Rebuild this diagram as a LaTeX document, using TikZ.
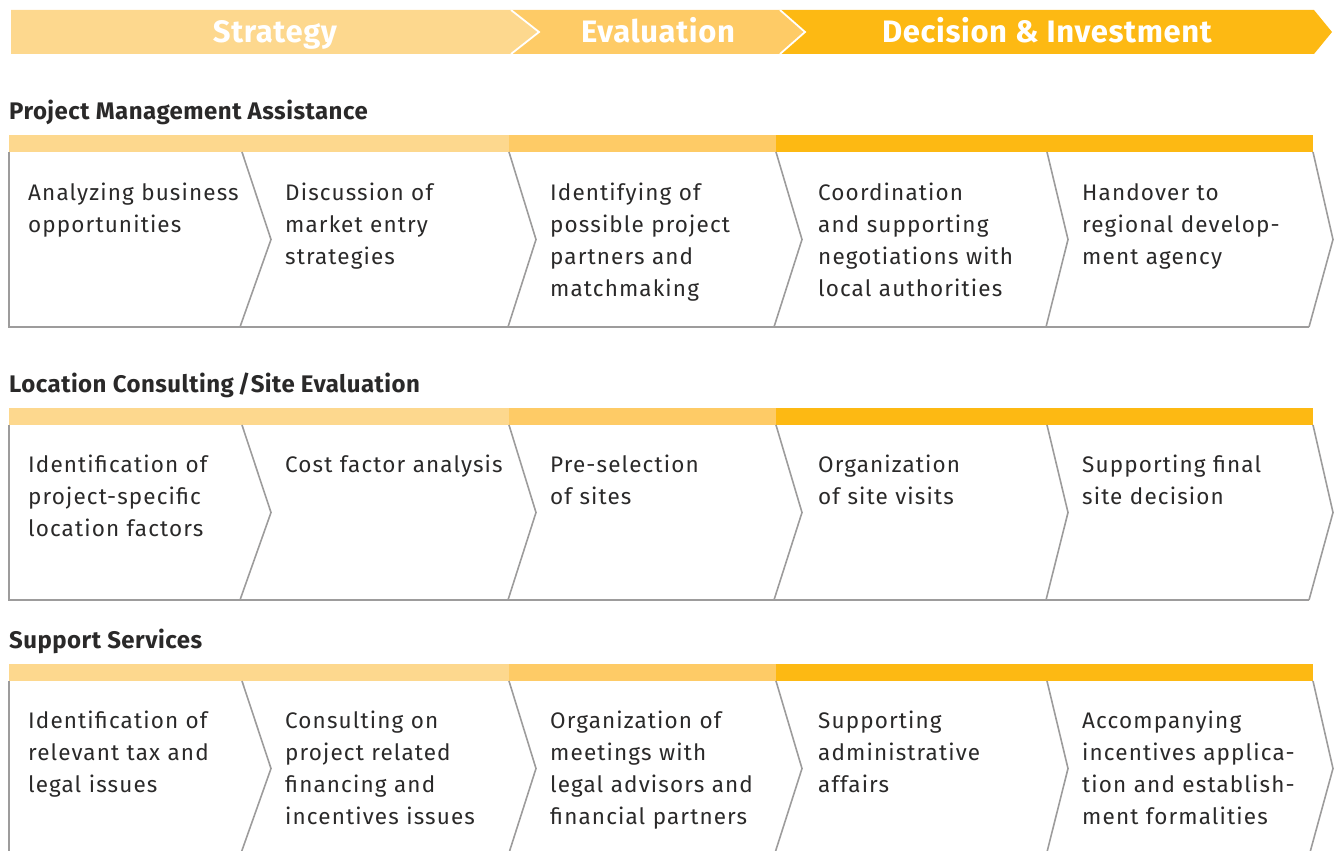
\documentclass[tikz,border=0pt]{standalone}
\usepackage{fontspec}
\setmainfont{Fira Sans}
\newfontfamily\cellfont[LetterSpace=5]{Fira Sans}
\newfontfamily\titlefont[LetterSpace=2]{Fira Sans}
\definecolor{phaseA}{HTML}{FDD88E}
\definecolor{phaseB}{HTML}{FECB66}
\definecolor{phaseC}{HTML}{FDB913}
\definecolor{cellgray}{HTML}{9D9C9C}
\definecolor{ink}{HTML}{2A2929}
\tikzset{
  cellline/.style={cellgray, line width=1.6pt, line join=miter},
  celltext/.style={anchor=base west, inner sep=0pt, align=left, text width=250pt,
    text=ink, font=\cellfont\fontsize{22.5}{32}\selectfont},
  rowtitle/.style={anchor=base west, inner sep=0pt, text=ink,
    font=\titlefont\fontsize{24}{28}\selectfont\bfseries},
  phasetext/.style={anchor=base, inner sep=0pt, text=white,
    font=\titlefont\fontsize{31}{36}\selectfont\bfseries}
}
\begin{document}
\begin{tikzpicture}[x=1pt,y=-1pt]
  \useasboundingbox (0,0) rectangle (1334,851);
  \clip (0,0) rectangle (1334,851);

  % Phase header
  \fill[phaseA] (11,10) -- (511,10) -- (539,32) -- (511,54) -- (11,54) -- cycle;
  \fill[phaseB] (511,10) -- (780,10) -- (805,32) -- (780,54) -- (511,54) -- (539,32) -- cycle;
  \fill[phaseC] (780,10) -- (1314,10) -- (1332,32) -- (1314,54) -- (780,54) -- (805,32) -- cycle;
  \draw[white, line width=1.8pt] (511,10) -- (539,32) -- (511,54);
  \draw[white, line width=1.8pt] (780,10) -- (805,32) -- (780,54);
  \node[phasetext] (strategy) at (275,43) {Strategy};
  \node[phasetext] (evaluation) at (658,43) {Evaluation};
  \node[phasetext] (decision) at (1047,43) {Decision \& Investment};

  % Rows: colour bar and chevron cells
  \foreach \t in {135,408,664} {
    \fill[phaseA] (9,\t) rectangle (509,\t+17);
    \fill[phaseB] (509,\t) rectangle (776,\t+17);
    \fill[phaseC] (776,\t) rectangle (1313,\t+17);
    \draw[cellline] (9,\t+17) -- (9,\t+192) -- (1309,\t+192);
    \foreach \a/\b/\c in {242/271/240, 509/536/508, 776/802/774, 1047/1068/1046, 1313/1333/1309}
      \draw[cellline] (\a,\t+17) -- (\b,\t+104.5) -- (\c,\t+192);
  }

  % Project Management Assistance
  \node[rowtitle] (pma) at (9,119) {Project Management Assistance};
  \node[celltext] (pma1) at (28,200) {Analyzing business\\opportunities};
  \node[celltext] (pma2) at (285,200) {Discussion of\\market entry\\strategies};
  \node[celltext] (pma3) at (550,200) {Identifying of\\possible project\\partners and\\matchmaking};
  \node[celltext] (pma4) at (818,200) {Coordination\\and supporting\\negotiations with\\local authorities};
  \node[celltext] (pma5) at (1082,200) {Handover to\\regional develop-\\ment agency};

  % Location Consulting / Site Evaluation
  \node[rowtitle] (lcs) at (9,392) {Location Consulting\,/Site Evaluation};
  \node[celltext] (lcs1) at (28,472) {Identification of\\project-specific\\location factors};
  \node[celltext] (lcs2) at (285,472) {Cost factor analysis};
  \node[celltext] (lcs3) at (550,472) {Pre-selection\\of sites};
  \node[celltext] (lcs4) at (818,472) {Organization\\of site visits};
  \node[celltext] (lcs5) at (1082,472) {Supporting final\\site decision};

  % Support Services
  \node[rowtitle] (sus) at (9,648) {Support Services};
  \node[celltext] (sus1) at (28,728) {Identification of\\relevant tax and\\legal issues};
  \node[celltext] (sus2) at (285,728) {Consulting on\\project related\\financing and\\incentives issues};
  \node[celltext] (sus3) at (550,728) {Organization of\\meetings with\\legal advisors and\\financial partners};
  \node[celltext] (sus4) at (818,728) {Supporting\\administrative\\affairs};
  \node[celltext] (sus5) at (1082,728) {Accompanying\\incentives applica-\\tion and establish-\\ment formalities};
\end{tikzpicture}
\end{document}
